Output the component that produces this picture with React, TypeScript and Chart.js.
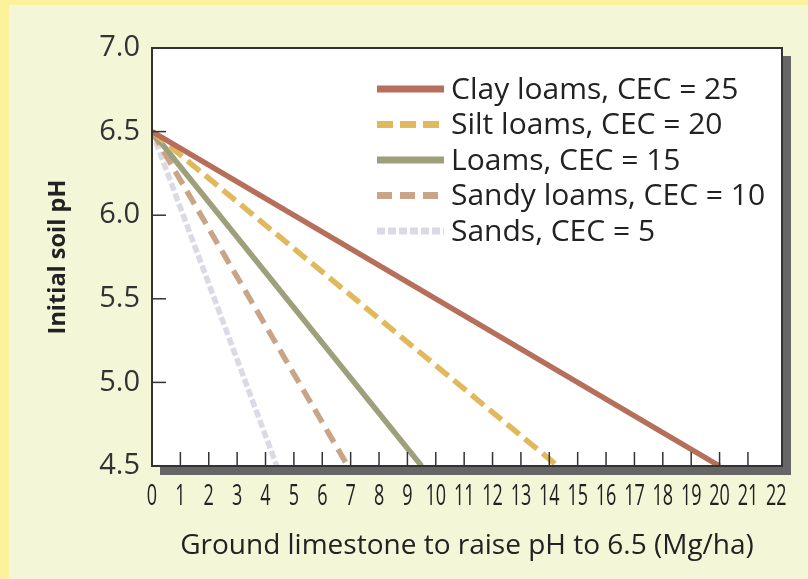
import React, { useEffect, useRef } from "react";
import { Chart, registerables } from "chart.js";

Chart.register(...registerables);

// ---- data ----
const seriesNames = [
  "Clay loams, CEC = 25",
  "Silt loams, CEC = 20",
  "Loams, CEC = 15",
  "Sandy loams, CEC = 10",
  "Sands, CEC = 5",
];
const clayX = [0, 20.0];
const clayY = [6.5, 4.5];
const siltX = [0, 14.3];
const siltY = [6.5, 4.5];
const loamX = [0, 9.5];
const loamY = [6.5, 4.5];
const sandyX = [0, 6.9];
const sandyY = [6.5, 4.5];
const sandsX = [0, 4.4];
const sandsY = [6.5, 4.5];
const xTickValues = [0, 1, 2, 3, 4, 5, 6, 7, 8, 9, 10, 11, 12, 13, 14, 15, 16, 17, 18, 19, 20, 21, 22];
const yTickValues = [4.5, 5.0, 5.5, 6.0, 6.5, 7.0];
const xMin = 0;
const xMax = 22.2;
const yMin = 4.5;
const yMax = 7.0;

const colors = ["#B66F5B", "#E1B95C", "#9DA07B", "#C9A486", "#DADAE6"];
const dashes: number[][] = [[], [16, 7], [], [15, 8], [8, 3]];

const FONT = "'Open Sans', Lato, sans-serif";

const pts = (xs: number[], ys: number[]) => xs.map((x, i) => ({ x, y: ys[i] }));

const framePlugin = {
  id: "frame",
  beforeDraw(chart: any) {
    const { ctx, width, height, chartArea: a } = chart;
    ctx.save();
    ctx.fillStyle = "#FCF29B";
    ctx.fillRect(0, 0, width, height);
    ctx.fillStyle = "#F3F7D7";
    ctx.fillRect(9, 5, width - 9, height - 5);
    ctx.fillStyle = "#666666";
    ctx.fillRect(a.left + 8, a.top + 8, a.right - a.left + 1, a.bottom - a.top + 1);
    ctx.fillStyle = "#FFFFFF";
    ctx.fillRect(a.left, a.top, a.right - a.left, a.bottom - a.top);
    ctx.restore();
  },
  afterDatasetsDraw(chart: any) {
    const { ctx, chartArea: a, scales } = chart;
    ctx.save();
    ctx.strokeStyle = "#333333";
    ctx.lineWidth = 1.5;
    const xs = scales.x;
    xs.ticks.forEach((t: any) => {
      const px = xs.getPixelForValue(t.value);
      ctx.save();
      ctx.translate(px, a.bottom + 31);
      ctx.scale(0.62, 1);
      ctx.fillStyle = "#222222";
      ctx.font = `29px ${FONT}`;
      ctx.textAlign = "center";
      ctx.textBaseline = "middle";
      ctx.fillText(String(t.value), 0, 0);
      ctx.restore();
      if (t.value === xMin || px > a.right - 8) return;
      ctx.beginPath();
      ctx.moveTo(px, a.bottom);
      ctx.lineTo(px, a.bottom - 14);
      ctx.stroke();
    });
    const ys = scales.y;
    ys.ticks.forEach((t: any) => {
      if (t.value === yMin || t.value === yMax) return;
      const py = ys.getPixelForValue(t.value);
      ctx.beginPath();
      ctx.moveTo(a.left, py);
      ctx.lineTo(a.left + 14, py);
      ctx.stroke();
    });
    ctx.lineWidth = 2;
    ctx.strokeRect(a.left, a.top, a.right - a.left, a.bottom - a.top);

    // legend
    const lx0 = a.left + 225;
    const lx1 = lx0 + 67;
    const tx = lx0 + 74;
    const rowY0 = a.top + 41;
    const rowStep = 35.5;
    chart.data.datasets.forEach((ds: any, i: number) => {
      const y = rowY0 + i * rowStep;
      ctx.save();
      ctx.strokeStyle = ds.borderColor;
      ctx.lineWidth = 7;
      ctx.setLineDash(ds.borderDash || []);
      ctx.beginPath();
      ctx.moveTo(lx0, y);
      ctx.lineTo(lx1, y);
      ctx.stroke();
      ctx.restore();
      ctx.fillStyle = "#222222";
      ctx.font = `30px ${FONT}`;
      ctx.textBaseline = "middle";
      ctx.textAlign = "left";
      ctx.fillText(ds.label, tx, y + 1);
    });
    ctx.restore();
  },
};

export default function App() {
  const ref = useRef<HTMLCanvasElement | null>(null);
  useEffect(() => {
    document.body.style.margin = "0";
    if (!ref.current) return;
    const seriesX = [clayX, siltX, loamX, sandyX, sandsX];
    const seriesY = [clayY, siltY, loamY, sandyY, sandsY];
    const chart = new Chart(ref.current, {
      type: "line",
      data: {
        datasets: seriesNames.map((name, i) => ({
          label: name,
          data: pts(seriesX[i], seriesY[i]),
          borderColor: colors[i],
          backgroundColor: colors[i],
          borderWidth: 5.5,
          borderDash: dashes[i],
          borderCapStyle: "butt",
          pointRadius: 0,
          fill: false,
          tension: 0,
        })),
      },
      options: {
        animation: false,
        responsive: false,
        devicePixelRatio: 1,
        layout: { padding: { left: 0, top: 48, right: 26, bottom: 0 } },
        plugins: { legend: { display: false }, tooltip: { enabled: false } },
        scales: {
          x: {
            type: "linear",
            min: xMin,
            max: xMax,
            afterBuildTicks: (s: any) => {
              s.ticks = xTickValues.map((v) => ({ value: v }));
            },
            afterFit: (s: any) => {
              s.height = 113;
            },
            ticks: { display: false },
            grid: { display: false, drawTicks: false },
            border: { display: false },
            title: {
              display: true,
              text: "Ground limestone to raise pH to 6.5 (Mg/ha)",
              color: "#222222",
              font: { family: FONT, size: 28 },
              padding: { top: 0, bottom: 16 },
            },
          },
          y: {
            type: "linear",
            min: yMin,
            max: yMax,
            afterBuildTicks: (s: any) => {
              s.ticks = yTickValues.map((v) => ({ value: v }));
            },
            afterFit: (s: any) => {
              s.width = 152;
            },
            ticks: {
              padding: 12,
              color: "#333333",
              font: { family: FONT, size: 29 },
              callback: (v: any) => Number(v).toFixed(1),
            },
            grid: { display: false, drawTicks: false },
            border: { display: false },
            title: {
              display: true,
              text: "Initial soil pH",
              color: "#222222",
              font: { family: FONT, size: 23.5, weight: "bold" },
              padding: { top: 44, bottom: 0 },
            },
          },
        },
      },
      plugins: [framePlugin],
    } as any);
    return () => chart.destroy();
  }, []);
  return (
    <div style={{ width: 808, height: 579 }}>
      <canvas ref={ref} width={808} height={579} style={{ width: 808, height: 579, display: "block" }} />
    </div>
  );
}
